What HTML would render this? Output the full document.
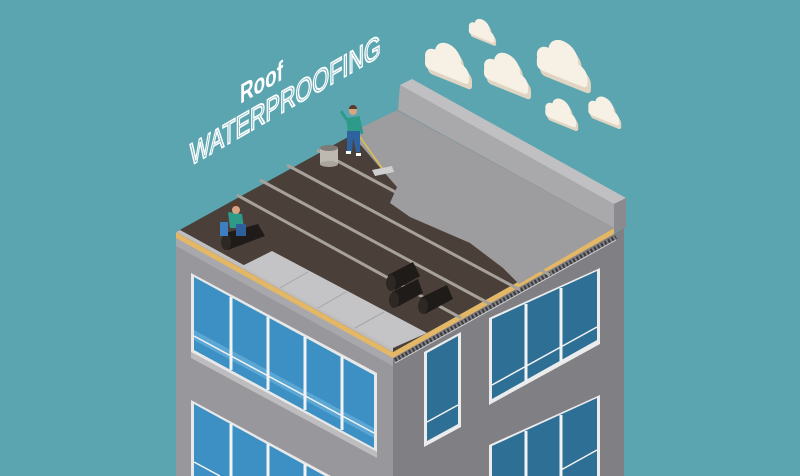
<!DOCTYPE html>
<html><head><meta charset="utf-8"><style>
html,body{margin:0;padding:0;background:#5ba5b1;overflow:hidden;width:800px;height:476px}
svg{display:block}
</style></head><body>
<svg width="800" height="476" viewBox="0 0 800 476" xmlns="http://www.w3.org/2000/svg">
<rect width="800" height="476" fill="#5ba5b1"/>
<defs>
<g id="cl">
 <g fill="#e0d5c2" transform="translate(3,4)">
  <circle cx="-11" cy="2" r="10"/><circle cx="2" cy="-6" r="13"/><circle cx="14" cy="5" r="9"/><rect x="-21" y="2" width="44" height="12" rx="4"/>
 </g>
 <g fill="#f7f0e5">
  <circle cx="-11" cy="2" r="10"/><circle cx="2" cy="-6" r="13"/><circle cx="14" cy="5" r="9"/><rect x="-21" y="2" width="44" height="12" rx="4"/>
 </g>
</g>
</defs>
<!-- clouds -->
<g transform="translate(446,62) skewY(22) scale(1.0)"><use href="#cl"/></g>
<g transform="translate(481,30) skewY(22) scale(0.58)"><use href="#cl"/></g>
<g transform="translate(505,72) skewY(22) scale(1.0)"><use href="#cl"/></g>
<g transform="translate(561,62) skewY(22) scale(1.15)"><use href="#cl"/></g>
<g transform="translate(560,112) skewY(22) scale(0.7)"><use href="#cl"/></g>
<g transform="translate(603,110) skewY(22) scale(0.7)"><use href="#cl"/></g>

<!-- text -->
<text transform="matrix(0.9,-0.52,0,1.3,240,104)" font-family="Liberation Sans, sans-serif" font-weight="bold" font-size="21" fill="#fff">Roof</text>
<text transform="matrix(0.9,-0.52,0,1.3,190,166)" font-family="Liberation Sans, sans-serif" font-size="24" fill="none" stroke="#fff" stroke-width="1.4">WATERPROOFING</text>

<!-- walls -->
<polygon points="176,236 393,356 393,476 176,476" fill="#98989c"/>
<polygon points="393,356 624,228 624,476 393,476" fill="#7f7f84"/>
<polygon points="176,236 393,356 393,366 176,246" fill="#a8a8ac"/>

<!-- left windows upper -->
<polygon points="191,273 377,373 377,452 191,352" fill="#e8e8e8"/>
<polygon points="194,277 374,375 374,448 194,350" fill="#3d90c3"/>
<polygon points="194,330 374,428 374,438 194,340" fill="#5aa6d4"/>
<g stroke="#f2f2f2" stroke-width="3">
<line x1="231" y1="297" x2="231" y2="370"/><line x1="268" y1="317" x2="268" y2="390"/>
<line x1="305" y1="337" x2="305" y2="410"/><line x1="342" y1="357" x2="342" y2="430"/>
</g>
<line x1="194" y1="336" x2="374" y2="433" stroke="#f2f2f2" stroke-width="1.5"/>
<polygon points="191,352 377,452 377,458 191,358" fill="#bdbdc0"/>
<!-- left windows lower -->
<polygon points="191,400 331,476 191,476" fill="#e8e8e8"/>
<polygon points="194,404 325,476 194,476" fill="#3d90c3"/>
<g stroke="#f2f2f2" stroke-width="3">
<line x1="231" y1="424" x2="231" y2="476"/><line x1="268" y1="444" x2="268" y2="476"/>
<line x1="305" y1="464" x2="305" y2="476"/>
</g>
<line x1="194" y1="462" x2="220" y2="476" stroke="#f2f2f2" stroke-width="1.5"/>

<!-- right small window -->
<polygon points="424,352 461,332 461,427 424,447" fill="#ececec"/>
<polygon points="427,353 458,336 458,424 427,441" fill="#2e6f96"/>
<line x1="427" y1="422" x2="458" y2="405" stroke="#f2f2f2" stroke-width="1.5"/>
<!-- right windows upper -->
<polygon points="489,318 600,268 600,344 489,405" fill="#ececec"/>
<polygon points="492,319 597,271 597,340 492,399" fill="#2e6f96"/>
<line x1="492" y1="385" x2="597" y2="327" stroke="#f2f2f2" stroke-width="1.5"/>
<g stroke="#f2f2f2" stroke-width="3"><line x1="526" y1="304" x2="526" y2="381"/><line x1="561" y1="288" x2="561" y2="361"/></g>
<!-- right windows lower -->
<polygon points="489,445 600,395 600,476 489,476" fill="#ececec"/>
<polygon points="492,446 597,398 597,476 492,476" fill="#2e6f96"/>
<g stroke="#f2f2f2" stroke-width="3"><line x1="526" y1="431" x2="526" y2="476"/><line x1="561" y1="415" x2="561" y2="476"/></g>
<line x1="561" y1="470" x2="597" y2="450" stroke="#f2f2f2" stroke-width="1.5"/>

<!-- roof edge -->
<polygon points="176,232 393,352 614,228 614,234 393,358 176,238" fill="#e3b766"/>
<line x1="395" y1="360" x2="616" y2="237" stroke="#3a3a3e" stroke-width="4" stroke-dasharray="2,2"/>
<line x1="395" y1="363" x2="616" y2="240" stroke="#cfcfd2" stroke-width="1"/>

<!-- roof top -->
<polygon points="176,232 397,110 614,228 393,352" fill="#4b3f39"/>
<polygon points="180,230 393,347 393,352 176,232" fill="#bfbfc2"/>
<polygon points="242,266 393,348 427,333 272,251" fill="#c4c4c6"/>
<g stroke="#a5a5a8" stroke-width="1">
<line x1="280" y1="288" x2="308" y2="272"/><line x1="318" y1="308" x2="346" y2="292"/><line x1="355" y1="328" x2="384" y2="312"/>
</g>
<g stroke="#a7a19c" stroke-width="3">
<line x1="237" y1="195" x2="461" y2="318"/>
<line x1="260" y1="180" x2="490" y2="304"/>
<line x1="287" y1="165" x2="520" y2="290"/>
<line x1="317" y1="150" x2="550" y2="275"/>
</g>
<polygon points="350,133 397,110 614,228 519,284 503,268 470,243 410,217 390,203 397,187 382,170 365,150" fill="#9d9d9f"/>
<!-- parapet -->
<polygon points="398,110 614,228 614,204 400,85" fill="#a9a9ab"/>
<polygon points="400,85 412,79 626,198 614,204" fill="#c0c0c2"/>
<polygon points="614,204 626,198 626,228 614,232" fill="#8b8b8f"/>

<!-- rolls -->
<g fill="#1f1b19">
<polygon points="388,275 413,262 420,276 395,290"/><ellipse cx="391" cy="283" rx="5" ry="8" fill="#2e2825"/>
<polygon points="392,292 418,279 423,293 397,307"/><ellipse cx="394" cy="300" rx="5" ry="8" fill="#2e2825"/>
<polygon points="420,298 447,285 453,299 425,314"/><ellipse cx="423" cy="306" rx="5" ry="8" fill="#2e2825"/>
<polygon points="222,234 258,224 265,236 228,250"/><ellipse cx="226" cy="242" rx="5" ry="8" fill="#2e2825"/>
</g>
<!-- kneeling worker -->
<rect x="220" y="222" width="8" height="14" fill="#3d7fc0"/>
<polygon points="228,212 242,214 244,228 230,228" fill="#2d9a8a"/>
<polygon points="236,224 246,224 246,236 236,236" fill="#2f5f9a"/>
<circle cx="236" cy="210" r="4" fill="#d9a481"/>
<path d="M232,206 a4,4 0 0 1 8,0z" fill="#5a3a28"/>

<!-- bucket -->
<rect x="320" y="148" width="18" height="16" fill="#bdb8b0"/>
<ellipse cx="329" cy="164" rx="9" ry="3" fill="#a9a49c"/>
<ellipse cx="329" cy="148" rx="9" ry="3" fill="#7e7a75"/>
<!-- standing worker -->
<line x1="343" y1="113" x2="382" y2="168" stroke="#e0c24a" stroke-width="1.5"/>
<polygon points="372,170 392,166 394,172 375,176" fill="#cfcfcf"/>
<polygon points="346,118 360,116 360,132 348,132" fill="#2d9a8a"/>
<polygon points="347,131 360,131 360,152 356,152 353,138 352,152 347,152" fill="#2f63a0"/>
<rect x="346" y="151" width="5" height="3" fill="#fff"/><rect x="356" y="153" width="5" height="3" fill="#fff"/>
<circle cx="353" cy="111" r="4" fill="#d9a481"/>
<path d="M349,109 a4,4 0 0 1 8,0z" fill="#5a3a28"/>
<line x1="347" y1="120" x2="341" y2="111" stroke="#2d9a8a" stroke-width="3"/>
<line x1="359" y1="120" x2="362" y2="134" stroke="#2d9a8a" stroke-width="3"/>
</svg>
</body></html>
